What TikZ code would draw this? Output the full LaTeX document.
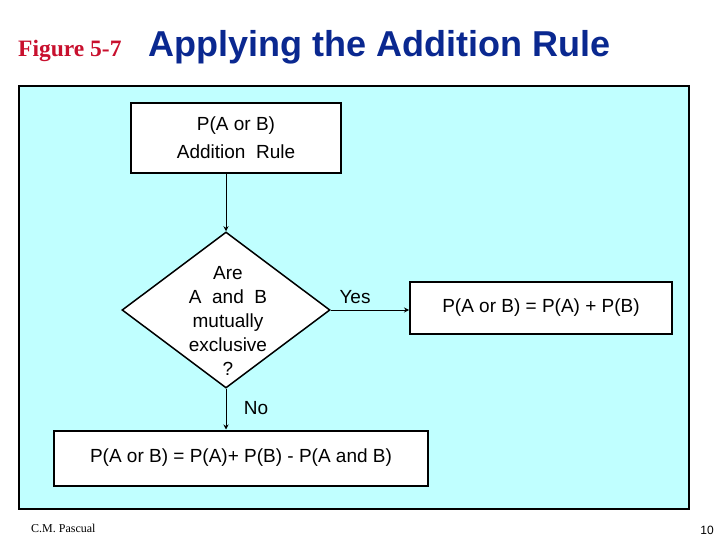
\documentclass[tikz,border=0pt]{standalone}
\usepackage{fontspec}
\setmainfont{Liberation Serif}
\setsansfont{Liberation Sans}
\usetikzlibrary{shapes.geometric,arrows.meta}
\definecolor{panelcyan}{HTML}{C0FFFF}
\definecolor{titleblue}{HTML}{0A2890}
\definecolor{figred}{HTML}{C8102E}
\tikzset{
  box/.style={draw=black,line width=2pt,fill=white,align=center,font=\sffamily\fontsize{19}{28}\selectfont},
  decision/.style={diamond,draw=black,line width=1.5pt,fill=white,inner sep=0pt,
    minimum width=208pt,minimum height=156pt},
  question/.style={align=center,inner sep=0pt,font=\sffamily\fontsize{19}{24}\selectfont},
  flow/.style={-{Stealth[length=5pt,width=5pt]},line width=0.8pt},
  lbl/.style={font=\sffamily\fontsize{19}{22}\selectfont}
}
\begin{document}
\begin{tikzpicture}[x=1pt,y=-1pt]
  \useasboundingbox (0,0) rectangle (720,540);
  \node[anchor=base west,font=\bfseries\fontsize{23.5}{26}\selectfont,text=figred,inner sep=0pt] (fig) at (18,57) {Figure 5-7};
  \node[anchor=base west,font=\sffamily\bfseries\fontsize{36}{40}\selectfont,text=titleblue,inner sep=0pt] (title) at (148,57) {Applying the Addition Rule};
  % panel
  \draw[line width=2.5pt,fill=panelcyan] (19,86) rectangle (689,509);
  % nodes
  \node[box,minimum width=210pt,minimum height=70pt] (rule) at (236,138) {P(A or B)\\Addition\ \ Rule};
  \node[decision] (excl) at (226,310) {};
  \node[question] (exclq) at (228,321) {Are\\A\ \ and\ \ B\\mutually\\exclusive\\?};
  \node[box,minimum width=262pt,minimum height=52pt] (sum) at (541,308) {P(A or B) = P(A) + P(B)};
  \node[box,minimum width=374pt,minimum height=55pt] (gen) at (241,458) {P(A or B) = P(A)+ P(B) - P(A and B)};
  % connectors
  \draw[flow] (rule.south -| excl.north) -- (excl.north);
  \draw[flow] (excl.east) -- (sum.west |- excl.east);
  \draw[flow] (excl.south) -- (gen.north -| excl.south);
  \node[lbl] (yes) at (355,297) {Yes};
  \node[lbl] (no) at (256,408) {No};
  % footer
  \node[anchor=base west,font=\fontsize{12}{14}\selectfont,inner sep=0pt] (author) at (31,532) {C.M. Pascual};
  \node[anchor=base east,font=\sffamily\fontsize{12}{14}\selectfont,inner sep=0pt] (page) at (714,534) {10};
\end{tikzpicture}
\end{document}
